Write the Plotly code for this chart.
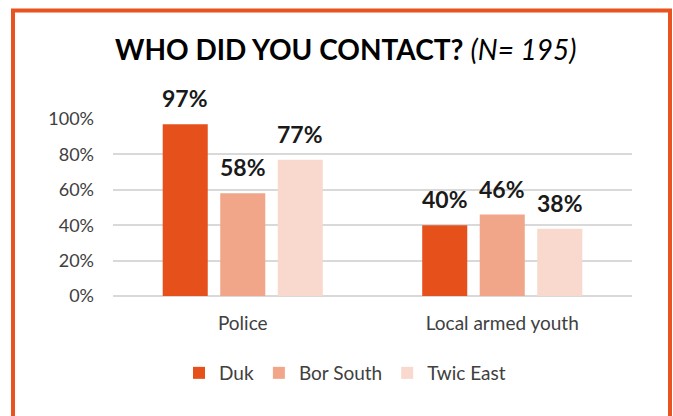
import plotly.graph_objects as go

categories = ["Police", "Local armed youth"]
series_names = ["Duk", "Bor South", "Twic East"]
duk = [97, 40]
bor_south = [58, 46]
twic_east = [77, 38]
colors = ["#E6501B", "#F1A68A", "#F9D9CD"]
y_ticks = [0, 20, 40, 60, 80, 100]
y_tick_labels = ["0%", "20%", "40%", "60%", "80%", "100%"]

FONT = "Lato"
W, H = 673, 416
L, R, T, B = 113, 41, 119, 120
pw, ph = W - L - R, H - T - B
BARGAP, GROUPGAP = 0.335, 0.217

def px(x):
    return (x - L) / pw

def py(y):
    return (H - B - y) / ph

fig = go.Figure()
all_series = [duk, bor_south, twic_east]
slot = pw / len(categories) * (1 - BARGAP) / len(series_names)
annotations = []
for i, (name, vals, col) in enumerate(zip(series_names, all_series, colors)):
    fig.add_trace(go.Bar(
        x=categories, y=vals, name=name, marker=dict(color=col, line=dict(width=0)),
        cliponaxis=False,
    ))
    for c, v in zip(categories, vals):
        annotations.append(dict(x=c, y=v, xref="x", yref="y", text=f"<b>{v}%</b>", showarrow=False,
                                xanchor="center", yanchor="bottom", yshift=10,
                                xshift=(i - 1) * slot,
                                font=dict(family=FONT, size=23, color="#1a1a1a")))

annotations.append(dict(xref="paper", yref="paper", x=px(345), y=py(49), xanchor="center", yanchor="middle",
                        text="<b>WHO DID YOU CONTACT?</b> <i>(N= 195)</i>", showarrow=False,
                        font=dict(family=FONT, size=28, color="black")))

fig.update_layout(
    width=W, height=H,
    margin=dict(l=L, r=R, t=T, b=B),
    paper_bgcolor="white", plot_bgcolor="white",
    barmode="group", bargap=BARGAP, bargroupgap=GROUPGAP,
    font=dict(family=FONT, color="#404040"),
    showlegend=True,
    legend=dict(orientation="h", x=px(345), xanchor="center", y=py(373), yanchor="middle",
                font=dict(family=FONT, size=19, color="#404040"), itemwidth=30,
                traceorder="normal"),
    xaxis=dict(showline=False, ticks="", tickfont=dict(family=FONT, size=19, color="#404040"),
               ticklabelstandoff=14),
    yaxis=dict(range=[0, 100], tickvals=y_ticks, ticktext=y_tick_labels,
               showgrid=True, gridcolor="#D9D9D9", gridwidth=1.5, zeroline=True,
               zerolinecolor="#D9D9D9", zerolinewidth=1.5,
               tickfont=dict(family=FONT, size=18, color="#404040"), ticklabelstandoff=18),
    shapes=[dict(type="path", xref="paper", yref="paper",
                 path=f"M {px(13)} {py(440)} L {px(13)} {py(10.5)} L {px(670)} {py(10.5)} L {px(670)} {py(440)}",
                 line=dict(color="#E8531F", width=4))],
    annotations=annotations,
)
fig.write_html("out.html")
